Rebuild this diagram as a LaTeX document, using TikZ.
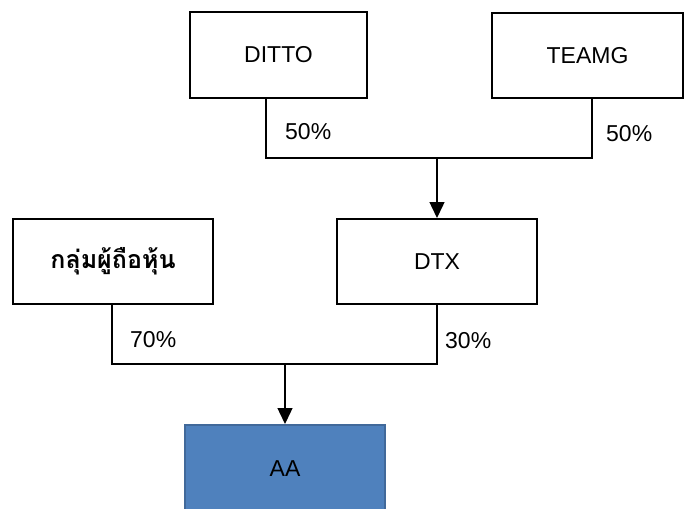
\documentclass[tikz,border=0pt]{standalone}
\usepackage{fontspec}
\setmainfont{Liberation Sans}
\newfontfamily\thaifont[Script=Thai]{Loma}
\usetikzlibrary{arrows.meta}
\definecolor{aablue}{HTML}{4F81BD}
\definecolor{aaedge}{HTML}{41699A}
\begin{document}
\begin{tikzpicture}[x=1pt,y=-1pt,
    company/.style={draw, line width=2pt, inner sep=0pt, font=\fontsize{23}{27}\selectfont},
    link/.style={line width=1.4pt},
    owns/.style={line width=1.4pt, -{Triangle[width=15pt,length=16pt]}},
    share/.style={anchor=west, inner sep=0pt, font=\fontsize{23}{27}\selectfont}]
    \clip (0,0) rectangle (684,508);
    % top row
    \node[company, minimum width=177pt, minimum height=86pt] (ditto) at (278.5,55) {DITTO};
    \node[company, minimum width=191pt, minimum height=85pt] (teamg) at (587.5,55.5) {TEAMG};
    % middle row
    \node[company, minimum width=200pt, minimum height=85pt] (holders) at (113,261.5) {\thaifont\fontsize{25}{30}\selectfont\bfseries กลุ่มผู้ถือหุ้น};
    \node[company, minimum width=200pt, minimum height=85pt] (dtx) at (437,261.5) {DTX};
    % bottom
    \node[company, fill=aablue, draw=aaedge, minimum width=200pt, minimum height=88pt] (aa) at (285,469) {AA};
    % connectors
    \coordinate (dittoleg) at (266,158);
    \coordinate (teamgleg) at (592,158);
    \draw[link] (ditto.south -| dittoleg) -- (dittoleg) -- (teamgleg) -- (teamg.south -| teamgleg);
    \draw[owns] (dtx.north |- dittoleg) -- (dtx.north);
    \coordinate (holdersleg) at (112,364);
    \draw[link] (holders.south -| holdersleg) -- (holdersleg) -- (dtx.south |- holdersleg) -- (dtx.south);
    \draw[owns] (aa.north |- holdersleg) -- (aa.north);
    % percentages
    \node[share] (dittoshare) at (285,132) {50\%};
    \node[share] (teamgshare) at (606,134) {50\%};
    \node[share] (holdersshare) at (130,340) {70\%};
    \node[share] (dtxshare) at (445,341) {30\%};
\end{tikzpicture}
\end{document}
